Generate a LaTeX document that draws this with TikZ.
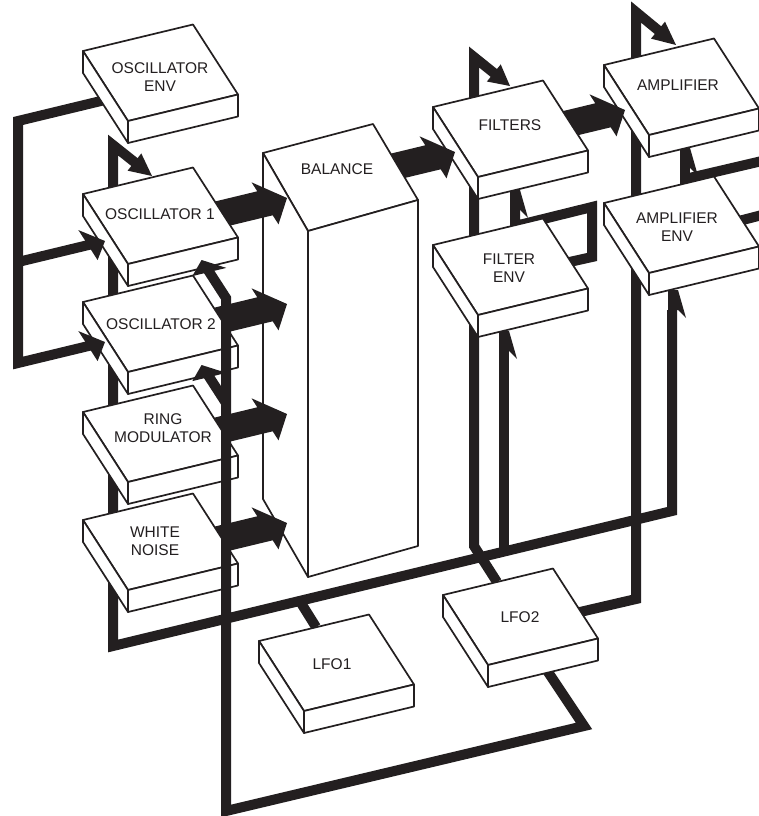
\documentclass[tikz,border=0pt]{standalone}
\usepackage{fontspec}
\setmainfont{Liberation Sans}
\usetikzlibrary{calc}
\definecolor{ink}{RGB}{35,31,32}
\tikzset{
  boxface/.style={fill=white, draw=ink, line width=1.7pt, line join=round},
  wire/.style={draw=ink, line width=10pt, line join=miter, line cap=butt},
  lbl/.style={font=\fontsize{15.5}{17.5}\selectfont, text=ink, align=center, inner sep=0pt},
}
% 3-D block: name, x, y of back-left top corner
\newcommand\blk[3]{%
  \coordinate (#1) at (#2,#3);
  \path[boxface] (#1) -- ++(110,-26.5) -- ++(45,70) -- ++(-110,26.5) -- cycle;
  \path[boxface] (#1) -- ++(45,70) -- ++(0,22) -- ++(-45,-70) -- cycle;
  \path[boxface] ($(#1)+(45,70)$) -- ++(110,-26.5) -- ++(0,22) -- ++(-110,26.5) -- cycle;}
% big flat arrow: tip, shaft length
\newcommand\bigarrow[2]{%
  \fill[ink] (#1) -- ($(#1)+(-22,5.3)+(13.5,21)$) -- ($(#1)+(-22,5.3)+(7.7,12)$)
   -- ($(#1)+(-#2,0.241*#2)+(7.7,12)$) -- ($(#1)+(-#2,0.241*#2)+(-7.7,-12)$)
   -- ($(#1)+(-22,5.3)+(-7.7,-12)$) -- ($(#1)+(-22,5.3)+(-13.5,-21)$) -- cycle;}
% small flat head pointing along u
\newcommand\headU[1]{\fill[ink] (#1) -- ($(#1)+(-17,4.1)+(9.6,15)$) -- ($(#1)+(-17,4.1)+(-9.6,-15)$) -- cycle;}
% small flat head pointing along -v
\newcommand\headV[1]{\fill[ink] (#1) -- ($(#1)+(7.7,12)+(17,-4.1)$) -- ($(#1)+(7.7,12)+(-17,4.1)$) -- cycle;}
% half-barb head pointing up
\newcommand\barbUp[1]{\fill[ink] ($(#1)+(-5,0)$) -- ($(#1)+(5,0)$) -- ($(#1)+(13,28)$) -- ($(#1)+(5,20)$) -- ($(#1)+(-5,20)$) -- cycle;}
% diagonal head from a bar top into a box back
\newcommand\topHead[2]{% tip, from
  \fill[ink] (#1) -- ($($(#1)!0.45!(#2)$)!11pt!90:(#1)$) -- ($($(#1)!0.45!(#2)$)!11pt!-90:(#1)$) -- cycle;}

\begin{document}
\begin{tikzpicture}[x=1pt,y=-1pt]
\useasboundingbox (0,0) rectangle (758,816);
\fill[white] (0,0) rectangle (758,816);

% ---------- LFO1 network ----------
\coordinate (l1stub) at (316,627);
\coordinate (l1bus) at (301,603);
\coordinate (busL) at (113,646);
\coordinate (busR) at (672,511);
\coordinate (busF) at (504,552);
\coordinate (o1top) at (113,145);
\coordinate (o1tip) at (152,176);
\coordinate (fenvTip) at (504,331);
\coordinate (aenvTip) at (673,290);
\draw[wire] (l1stub) -- (l1bus);
\draw[wire] ($(o1tip)!0.4!(o1top)$) -- (o1top) -- (busL) -- (busR) -- (672,310);
\draw[wire] (busF) -- (504,350);
\topHead{o1tip}{o1top}
\barbUp{fenvTip}
\barbUp{aenvTip}

% ---------- LFO2 -> FILTERS, AMPLIFIER ----------
\coordinate (l2f) at (497,582);
\coordinate (ftop) at (474,57);
\coordinate (ftip) at (510,86);
\draw[wire] (l2f) -- (474,546) -- (ftop) -- ($(ftip)!0.4!(ftop)$);
\topHead{ftip}{ftop}
\coordinate (l2a) at (580,612);
\coordinate (atop) at (636,12);
\coordinate (atip) at (676,45);
\draw[wire] (l2a) -- (636,599) -- (atop) -- ($(atip)!0.4!(atop)$);
\topHead{atip}{atop}

% ---------- FILTER ENV -> FILTERS loop ----------
\coordinate (fenvOut) at (565,263);
\coordinate (filtIn) at (515,190);
\draw[wire] (fenvOut) -- (592,257) -- (592,207) -- (515,226) -- ($(filtIn)+(0,19)$);
\barbUp{filtIn}

% ---------- AMPLIFIER ENV / AMPLIFIER right side ----------
\coordinate (ampIn) at (685,148);
\draw[wire] (685,200) -- ($(ampIn)+(0,19)$);
\barbUp{ampIn}
\draw[wire] (762,161) -- (685,179);
\draw[wire] (735,222) -- (762,215);

% ---------- right-hand blocks ----------
\blk{amp}{604}{65}
\coordinate (ampArrow) at (625,110);
\bigarrow{ampArrow}{65}
\blk{filt}{433}{107}
\coordinate (filtArrow) at (455,152);
\bigarrow{filtArrow}{70}
\blk{fenv}{433}{245}
\blk{aenv}{604}{203}

% ---------- BALANCE ----------
\path[boxface] (263,153) -- (373,124) -- (418,200) -- (308,231) -- cycle;
\path[boxface] (263,153) -- (308,231) -- (308,577) -- (263,499) -- cycle;
\path[boxface] (308,231) -- (418,200) -- (418,546) -- (308,577) -- cycle;
\coordinate (balIn1) at (287,198);
\coordinate (balIn2) at (287,304);
\coordinate (balIn3) at (287,414);
\coordinate (balIn4) at (287,523);
\bigarrow{balIn1}{87}
\bigarrow{balIn2}{87}
\bigarrow{balIn3}{87}
\bigarrow{balIn4}{87}

% ---------- left column ----------
\blk{osc1}{83}{194}
\blk{osc2}{83}{302}
\blk{ring}{83}{412}
\blk{wn}{83}{520}

% LFO2 -> OSC1, OSC2
\coordinate (l2o) at (540,660);
\coordinate (o1in) at (201.6,260);
\coordinate (o2in) at (201.6,365);
\coordinate (j1) at (226,298);
\coordinate (j2) at (226,403);
\draw[wire] (l2o) -- (584,726) -- (226,811) -- (j1) -- ($(o1in)+(6,9.5)$);
\draw[wire] (j2) -- ($(o2in)+(6,9.5)$);
\headV{o1in}
\headV{o2in}

% OSC ENV -> OSC1, OSC2
\coordinate (envOut) at (105,100);
\coordinate (e1) at (105,241);
\coordinate (e2) at (105,342);
\draw[wire] (envOut) -- (18,121) -- (18,363) -- ($(e2)+(-12,2.9)$);
\draw[wire] (18,262) -- ($(e1)+(-12,2.9)$);
\headU{e1}
\headU{e2}

\blk{oenv}{83}{51}
\blk{lfo1}{259}{641}
\blk{lfo2}{443}{595}

% ---------- labels ----------
\node[lbl] (toenv) at (160,77) {OSCILLATOR\\ENV};
\node[lbl] (tosc1) at (160,214) {OSCILLATOR 1};
\node[lbl] (tosc2) at (161,324) {OSCILLATOR 2};
\node[lbl] (tring) at (163,428) {RING\\MODULATOR};
\node[lbl] (twn) at (155,541) {WHITE\\NOISE};
\node[lbl] (tbal) at (337,169) {BALANCE};
\node[lbl] (tfilt) at (510,125) {FILTERS};
\node[lbl] (tfenv) at (509,268) {FILTER\\ENV};
\node[lbl] (tamp) at (678,85) {AMPLIFIER};
\node[lbl] (taenv) at (677,227) {AMPLIFIER\\ENV};
\node[lbl] (tlfo1) at (332,664) {LFO1};
\node[lbl] (tlfo2) at (520,617) {LFO2};
\end{tikzpicture}
\end{document}
